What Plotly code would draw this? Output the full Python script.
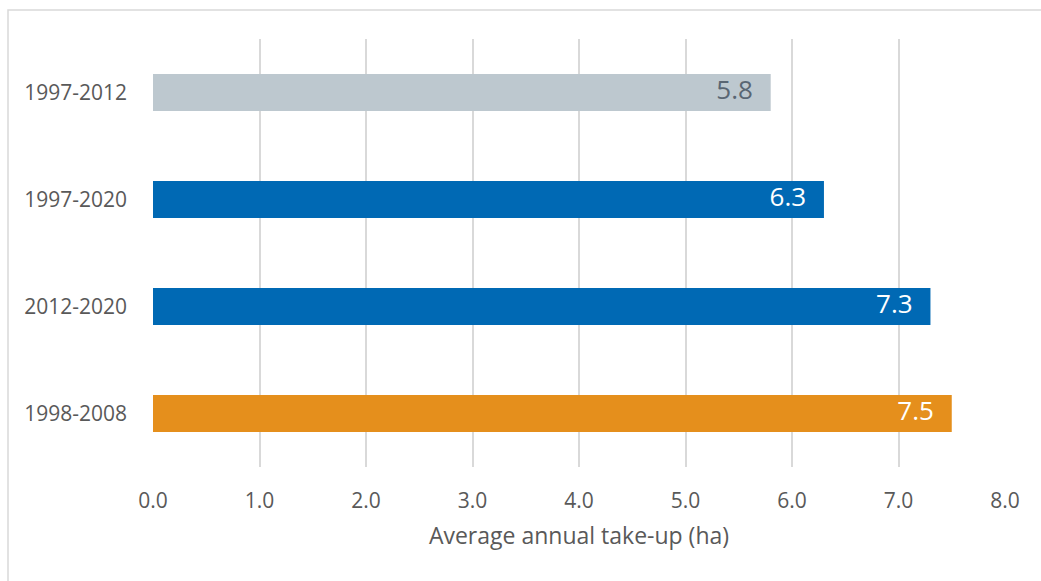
import plotly.graph_objects as go

categories = ["1997-2012", "1997-2020", "2012-2020", "1998-2008"]
values = [5.8, 6.3, 7.3, 7.5]
bar_colors = ["#BDC8CF", "#0069B4", "#0069B4", "#E58F1C"]
label_colors = ["#596673", "#FFFFFF", "#FFFFFF", "#FFFFFF"]
x_ticks = [0, 1, 2, 3, 4, 5, 6, 7, 8]
x_ticklabels = ["0.0", "1.0", "2.0", "3.0", "4.0", "5.0", "6.0", "7.0", "8.0"]

FONT = "Open Sans"
PAD = "\u00a0\u00a0\u2009"

fig = go.Figure()
fig.add_trace(go.Bar(
    x=values,
    y=categories,
    orientation="h",
    marker=dict(color=bar_colors, line=dict(width=0)),
    width=0.346,
    hoverinfo="x+y",
))
fig.add_trace(go.Scatter(
    x=values,
    y=categories,
    mode="text",
    text=[f"{v:.1f}" + PAD for v in values],
    textposition="middle left",
    textfont=dict(family=FONT, size=26, color=label_colors),
    hoverinfo="skip",
    cliponaxis=False,
))

fig.update_layout(
    width=1041,
    height=581,
    margin=dict(l=153, r=36, t=39, b=114),
    paper_bgcolor="white",
    plot_bgcolor="white",
    showlegend=False,
    font=dict(family=FONT, color="#595959"),
    xaxis=dict(
        range=[0, 8],
        tickvals=x_ticks,
        ticktext=x_ticklabels,
        showgrid=True,
        gridcolor="#D9D9D9",
        gridwidth=2,
        zeroline=False,
        showline=False,
        ticks="",
        tickfont=dict(size=21, color="#595959"),
        ticklabelstandoff=19,
        title=dict(text="Average annual take-up (ha)", font=dict(size=23, color="#595959"), standoff=14),
    ),
    yaxis=dict(
        categoryorder="array",
        categoryarray=categories[::-1],
        range=[-0.5, 3.5],
        showgrid=False,
        zeroline=False,
        showline=False,
        ticks="",
        tickfont=dict(size=21, color="#595959"),
        ticklabelstandoff=25,
    ),
    shapes=[dict(
        type="rect", xref="paper", yref="paper",
        x0=-145 / 852, x1=(1060 - 153) / 852,
        y0=-(600 - 467) / 428, y1=(467 - 10) / 428,
        line=dict(color="#D9D9D9", width=1.5),
        fillcolor="rgba(0,0,0,0)",
        layer="below",
    )],
)

fig.write_html("out.html")
